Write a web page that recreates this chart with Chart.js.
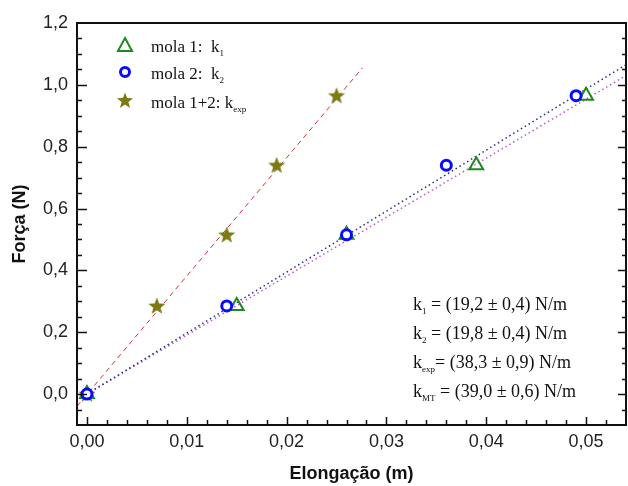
<!DOCTYPE html>
<html>
<head>
<meta charset="utf-8">
<script src="https://cdn.jsdelivr.net/npm/chart.js@4.4.1/dist/chart.umd.min.js"></script>
<style>
  html, body { margin: 0; padding: 0; background: #fff; }
  #wrap { width: 628px; height: 486px; }
</style>
</head>
<body>
<div id="wrap"><canvas id="grafico" width="628" height="486"></canvas></div>
<script>
// forças aplicadas (N) - as mesmas para as três montagens
const forca = [0, 0.285, 0.515, 0.74, 0.965];
// elongações medidas (m)
const elongMola1 = [0, 0.015, 0.026, 0.039, 0.050];
const elongMola2 = [0, 0.014, 0.026, 0.036, 0.049];
const elongMola12 = [0, 0.007, 0.014, 0.019, 0.025];

// retas de ajuste, extremos
const ajusteMola1X = [0, 0.054];
const ajusteMola1Y = [0, 1.03];
const ajusteMola2X = [0, 0.054];
const ajusteMola2Y = [0, 1.065];
const ajusteMola12X = [-0.001, 0.0276];
const ajusteMola12Y = [-0.039, 1.055];

const xTicks = [0, 0.01, 0.02, 0.03, 0.04, 0.05];
const yTicks = [0, 0.2, 0.4, 0.6, 0.8, 1.0, 1.2];

const legendaTextos = ['mola 1:  k', 'mola 2:  k', 'mola 1+2: k'];
const legendaSubs = ['1', '2', 'exp'];

const resultadosSubs = ['1', '2', 'exp', 'MT'];
const resultadosTextos = [
  ' = (19,2 ± 0,4) N/m',
  ' = (19,8 ± 0,4) N/m',
  '= (38,3 ± 0,9) N/m',
  ' = (39,0 ± 0,6) N/m'
];

const VERDE = '#1c8a1c';
const AZUL = '#0a0aff';
const OLIVA = '#7d7a12';

function pontos(xs, ys) {
  return xs.map((x, i) => ({ x: x, y: ys[i] }));
}

// estrela cheia para os pontos da mola 1+2
function criaEstrela(r) {
  const c = document.createElement('canvas');
  const s = Math.ceil(r * 2 + 2);
  c.width = s;
  c.height = s;
  const g = c.getContext('2d');
  desenhaEstrela(g, s / 2, s / 2 + 0.5, r);
  return c;
}

function desenhaEstrela(g, cx, cy, r) {
  g.beginPath();
  for (let i = 0; i < 10; i++) {
    const rr = i % 2 === 0 ? r : r * 0.42;
    const ang = -Math.PI / 2 + i * Math.PI / 5;
    const px = cx + Math.cos(ang) * rr;
    const py = cy + Math.sin(ang) * rr;
    if (i === 0) g.moveTo(px, py); else g.lineTo(px, py);
  }
  g.closePath();
  g.fillStyle = OLIVA;
  g.fill();
}

const estrela = criaEstrela(9);

function formata(v, casas) {
  return v.toFixed(casas).replace('.', ',');
}

// moldura e marcas de escala para dentro
const molduraPlugin = {
  id: 'moldura',
  afterDraw(chart) {
    const { ctx, chartArea: a, scales: { x, y } } = chart;
    ctx.save();
    ctx.strokeStyle = '#111';
    ctx.lineWidth = 1.5;
    ctx.beginPath();
    for (let i = 0; i <= 26; i++) {
      const px = Math.round(x.getPixelForValue(i * 0.002)) + 0.5;
      const len = i % 5 === 0 ? 8 : 5;
      ctx.moveTo(px, a.bottom);
      ctx.lineTo(px, a.bottom - len);
    }
    for (let j = -1; j <= 23; j++) {
      const py = Math.round(y.getPixelForValue(j * 0.05)) + 0.5;
      const maior = j % 4 === 0;
      ctx.moveTo(a.left, py);
      ctx.lineTo(a.left + (maior ? 10 : 5), py);
      ctx.moveTo(a.right, py);
      ctx.lineTo(a.right - (maior ? 8 : 4), py);
    }
    ctx.stroke();
    ctx.lineWidth = 2;
    ctx.strokeRect(a.left, a.top, a.right - a.left, a.bottom - a.top);
    ctx.restore();
  }
};

function textoComIndice(ctx, x, y, base, sub, resto, tam, tamSub) {
  ctx.font = tam + 'px "Liberation Serif", "Times New Roman", serif';
  ctx.fillText(base, x, y);
  let px = x + ctx.measureText(base).width;
  ctx.font = tamSub + 'px "Liberation Serif", "Times New Roman", serif';
  ctx.fillText(sub, px, y + 4);
  px += ctx.measureText(sub).width;
  if (resto) {
    ctx.font = tam + 'px "Liberation Serif", "Times New Roman", serif';
    ctx.fillText(resto, px, y);
  }
}

const legendaPlugin = {
  id: 'legendaMolas',
  afterDraw(chart) {
    const ctx = chart.ctx;
    ctx.save();
    // marcadores
    ctx.strokeStyle = VERDE;
    ctx.lineWidth = 2;
    ctx.beginPath();
    ctx.moveTo(125, 38);
    ctx.lineTo(132, 51);
    ctx.lineTo(118, 51);
    ctx.closePath();
    ctx.stroke();

    ctx.strokeStyle = AZUL;
    ctx.lineWidth = 3;
    ctx.beginPath();
    ctx.arc(125, 72, 4.5, 0, Math.PI * 2);
    ctx.stroke();

    desenhaEstrela(ctx, 125, 101, 8.5);

    ctx.fillStyle = '#111';
    ctx.textBaseline = 'alphabetic';
    const bases = [52, 79, 108];
    legendaTextos.forEach((t, i) => {
      textoComIndice(ctx, 151, bases[i], t, legendaSubs[i], '', 17, 9);
    });

    const basesRes = [310, 339, 368, 397];
    resultadosTextos.forEach((t, i) => {
      textoComIndice(ctx, 413, basesRes[i], 'k', resultadosSubs[i], t, 18, 9);
    });
    ctx.restore();
  }
};

const ctx = document.getElementById('grafico').getContext('2d');
new Chart(ctx, {
  type: 'scatter',
  data: {
    datasets: [
      {
        label: 'mola 2',
        data: pontos(elongMola2, forca),
        pointStyle: 'circle',
        pointRadius: 5,
        pointBorderWidth: 3,
        borderColor: AZUL,
        backgroundColor: '#fff',
        order: 1
      },
      {
        label: 'mola 1',
        data: pontos(elongMola1, forca),
        pointStyle: 'triangle',
        pointRadius: 8,
        pointBorderWidth: 2,
        borderColor: VERDE,
        backgroundColor: 'rgba(255,255,255,0)',
        order: 2
      },
      {
        label: 'mola 1+2',
        data: pontos(elongMola12, forca),
        pointStyle: estrela,
        pointRadius: 9,
        order: 3
      },
      {
        label: 'ajuste 2',
        type: 'line',
        data: pontos(ajusteMola2X, ajusteMola2Y),
        borderColor: '#2a2a80',
        borderWidth: 1.5,
        borderDash: [1.5, 3],
        pointRadius: 0,
        order: 5
      },
      {
        label: 'ajuste 1',
        type: 'line',
        data: pontos(ajusteMola1X, ajusteMola1Y),
        borderColor: '#b45ad2',
        borderWidth: 1.5,
        borderDash: [1.5, 3],
        pointRadius: 0,
        order: 6
      },
      {
        label: 'ajuste 1+2',
        type: 'line',
        data: pontos(ajusteMola12X, ajusteMola12Y),
        borderColor: '#cc3040',
        borderWidth: 1,
        borderDash: [5, 4],
        pointRadius: 0,
        order: 4
      }
    ]
  },
  options: {
    responsive: false,
    animation: false,
    layout: { autoPadding: false, padding: { left: 0, right: 2, top: 23, bottom: 0 } },
    plugins: {
      legend: { display: false },
      tooltip: { enabled: false }
    },
    scales: {
      x: {
        type: 'linear',
        min: -0.001,
        max: 0.054,
        grid: { display: false, drawTicks: false },
        border: { display: false },
        afterBuildTicks: (s) => { s.ticks = xTicks.map(v => ({ value: v })); },
        afterFit: (s) => { s.height = 61; s.paddingLeft = 0; s.paddingRight = 0; },
        ticks: {
          autoSkip: false,
          maxRotation: 0,
          padding: 6,
          color: '#222',
          font: { family: '"Liberation Sans", Arial, sans-serif', size: 18 },
          callback: (v) => formata(v, 2)
        },
        title: {
          display: true,
          text: 'Elongação (m)',
          color: '#111',
          padding: { top: 0, bottom: 1 },
          font: { family: '"Liberation Sans", Arial, sans-serif', size: 18, weight: 'bold' }
        }
      },
      y: {
        type: 'linear',
        min: -0.1,
        max: 1.2,
        grid: { display: false, drawTicks: false },
        border: { display: false },
        afterBuildTicks: (s) => { s.ticks = yTicks.map(v => ({ value: v })); },
        afterFit: (s) => { s.width = 77; s.paddingTop = 0; s.paddingBottom = 0; },
        ticks: {
          autoSkip: false,
          padding: 9,
          color: '#222',
          font: { family: '"Liberation Sans", Arial, sans-serif', size: 18 },
          callback: (v) => formata(v, 1)
        },
        title: {
          display: true,
          text: 'Força (N)',
          color: '#111',
          padding: { top: 9, bottom: 0 },
          font: { family: '"Liberation Sans", Arial, sans-serif', size: 18, weight: 'bold' }
        }
      }
    }
  },
  plugins: [molduraPlugin, legendaPlugin]
});
</script>
</body>
</html>
